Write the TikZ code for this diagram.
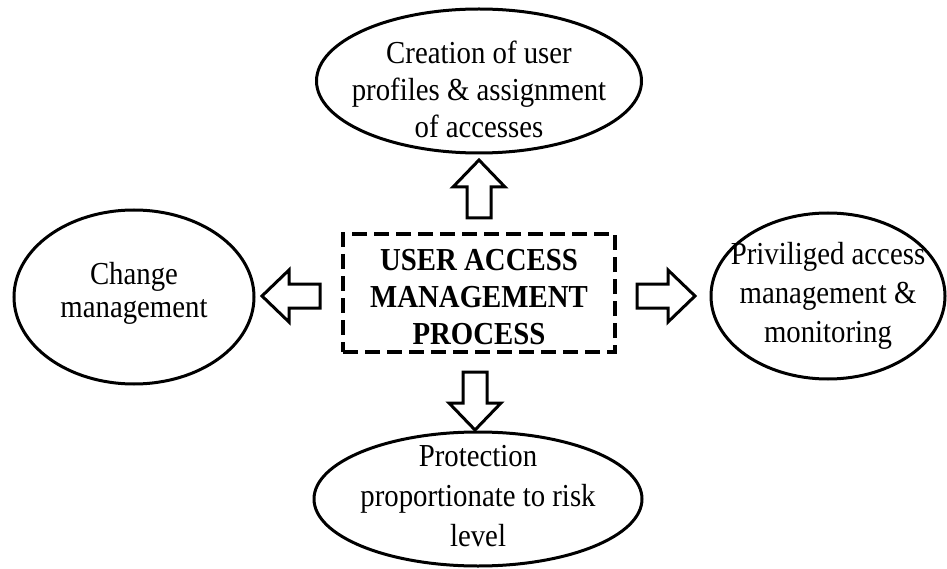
\documentclass[tikz,border=0pt]{standalone}
\usepackage{fontspec}
\setmainfont{Liberation Serif}[FakeStretch=0.9]
\usetikzlibrary{shapes.geometric}
\tikzset{
  oval/.style={ellipse, draw, line width=3pt, inner sep=0pt},
  ovaltext/.style={align=center, inner sep=0pt, font=\fontsize{32}{#1}\selectfont},
  ovaltext/.default=37,
  corebox/.style={draw, line width=4.5pt, dash pattern=on 15pt off 7pt, inner sep=0pt},
  coretext/.style={align=center, inner sep=0pt, font=\fontsize{32}{37}\selectfont\bfseries},
  barrow/.pic={\draw[line width=3pt, fill=white, line join=miter] (0,-12) -- (31,-12) -- (31,-26) -- (58,0) -- (31,26) -- (31,12) -- (0,12) -- cycle;}
}
\begin{document}
\begin{tikzpicture}[x=1pt,y=-1pt]
\useasboundingbox (0,0) rectangle (947,569);
% centre box
\node[corebox, minimum width=272pt, minimum height=118pt] (c) at (479,293) {};
\node[coretext] (ct) at (479,297) {USER ACCESS\\MANAGEMENT\\PROCESS};
% ellipses
\node[oval, minimum width=325pt, minimum height=144pt] (t) at (479,81) {};
\node[ovaltext] (tt) at (479,89) {Creation of user\\profiles \& assignment\\of accesses};
\node[oval, minimum width=240pt, minimum height=174pt] (l) at (134,297) {};
\node[ovaltext=33] (lt) at (134,293) {Change\\management};
\node[oval, minimum width=234pt, minimum height=166pt] (r) at (828,296) {};
\node[ovaltext=39] (rt) at (828,296) {Priviliged access\\management \&\\monitoring};
\node[oval, minimum width=328pt, minimum height=134pt] (b) at (478,499) {};
\node[ovaltext=40] (bt) at (478,496) {Protection\\proportionate to risk\\level};
% block arrows
\coordinate (au) at (479,218);
\coordinate (al) at (320,296);
\coordinate (ar) at (637,296);
\coordinate (ad) at (475,372);
\pic[rotate=90] at (au) {barrow};
\pic[rotate=180] at (al) {barrow};
\pic at (ar) {barrow};
\pic[rotate=-90] at (ad) {barrow};
\end{tikzpicture}
\end{document}
